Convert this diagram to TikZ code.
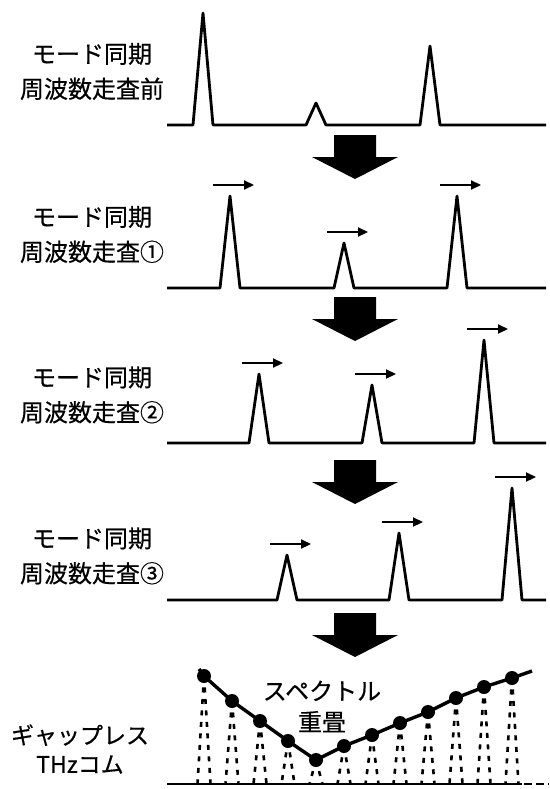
\documentclass[tikz,border=0pt]{standalone}
\usepackage{fontspec}
\newfontfamily\jpfont{Noto Sans CJK JP}[FakeBold=0.5,BoldFont={Noto Sans CJK JP},BoldFeatures={FakeBold=0.5}]
\usetikzlibrary{arrows.meta}
\newcommand\specline[7]{%
  \draw[specstyle] (167,#1) -- ({#2-10},#1) -- (#2,#3) -- ({#2+10},#1)
    -- ({#4-10},#1) -- (#4,#5) -- ({#4+10},#1)
    -- ({#6-10},#1) -- (#6,#7) -- ({#6+10},#1) -- (546,#1);}
\newcommand\shiftarrow[3]{%
  \coordinate (#1s) at ({#2-17},{#3-11});
  \coordinate (#1e) at ({#2+24},{#3-11});
  \draw[shiftstyle] (#1s) -- (#1e);}
\newcommand\bigdown[2]{%
  \fill[bigstyle] (334,#2) -- (376,#2) -- (376,{#2+22}) -- (398,{#2+22})
    -- (355,{#2+44}) -- (312,{#2+22}) -- (334,{#2+22}) -- cycle;}
\begin{document}
\begin{tikzpicture}[x=1pt,y=-1pt,
  lbl/.style={font=\jpfont\bfseries\fontsize{24}{35}\selectfont, align=center, inner sep=0pt},
  specstyle/.style={line width=2.8pt, line join=round},
  shiftstyle/.style={line width=2.2pt, -{Triangle[length=10pt,width=9pt]}},
  bigstyle/.style={fill=black},
  combstyle/.style={line width=2.6pt, dash pattern=on 5pt off 6.5pt},
  envstyle/.style={line width=3.4pt, line join=round},
  dotstyle/.style={circle, fill=black, inner sep=0pt, minimum size=14pt}
]
\useasboundingbox (0,0) rectangle (549,789);

% panel 0
\node[lbl] (t0) at (92,71.5) {モード同期\\周波数走査前};
\specline{125}{203}{13}{316}{103}{430}{46}
\bigdown{a1}{135}

% panel 1
\node[lbl] (t1) at (92,234.5) {モード同期\\周波数走査①};
\specline{288}{230}{196}{344}{243}{457}{196}
\shiftarrow{p1a}{230}{196}
\shiftarrow{p1b}{344}{243}
\shiftarrow{p1c}{457}{196}
\bigdown{a2}{297}

% panel 2
\node[lbl] (t2) at (92,395) {モード同期\\周波数走査②};
\specline{443}{259}{374}{372}{385}{484}{340}
\shiftarrow{p2a}{259}{374}
\shiftarrow{p2b}{372}{385}
\shiftarrow{p2c}{484}{340}
\bigdown{a3}{460}

% panel 3
\node[lbl] (t3) at (92,556) {モード同期\\周波数走査③};
\specline{600}{287}{555}{399}{533}{512}{488}
\shiftarrow{p3a}{287}{555}
\shiftarrow{p3b}{399}{533}
\shiftarrow{p3c}{512}{488}
\bigdown{a4}{613}

% comb
\draw[specstyle] (167,784) -- (522,784);
\draw[line width=2.8pt, dash pattern=on 8pt off 4pt] (524,784) -- (549,784);
\foreach \i/\yy in {0/676,1/701,2/721,3/741,4/760,5/746,6/735,7/723,8/712,9/698,10/687,11/678}{
  \pgfmathsetmacro\xx{204+28*\i}
  \coordinate (c\i) at (\xx,\yy);
  \coordinate (l\i) at ({\xx-6.5},784);
  \coordinate (r\i) at ({\xx+6.5},784);
  \draw[combstyle] (c\i) -- (l\i);
  \draw[combstyle] (c\i) -- (r\i);
}
\coordinate (cs) at (199,669);
\coordinate (ce) at (532,671);
\draw[envstyle] (cs) -- (c0) -- (c1) -- (c2) -- (c3) -- (c4) -- (c5) -- (c6)
  -- (c7) -- (c8) -- (c9) -- (c10) -- (c11) -- (ce);
\foreach \i in {0,...,11}{ \node[dotstyle] (d\i) at (c\i) {}; }

\node[lbl, font=\jpfont\bfseries\fontsize{24}{31}\selectfont] (sp) at (322,706.5) {スペクトル\\重畳};
\node[lbl, font=\jpfont\bfseries\fontsize{23}{29}\selectfont] (gl) at (80,749) {ギャップレス\\THzコム};
\end{tikzpicture}
\end{document}
